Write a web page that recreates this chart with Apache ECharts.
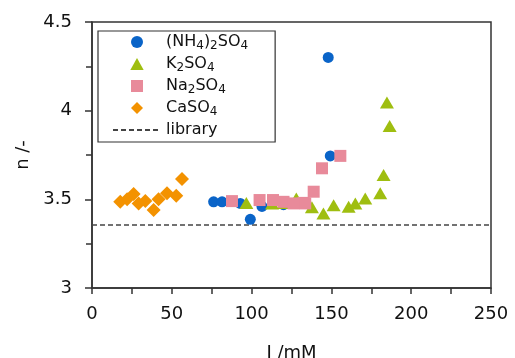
<!DOCTYPE html>
<html>
<head>
<meta charset="utf-8">
<script src="https://cdn.jsdelivr.net/npm/echarts@6/dist/echarts.min.js"></script>
<style>
  html, body { margin: 0; padding: 0; background: #fff; }
  #chart { width: 515px; height: 358px; }
</style>
</head>
<body>
<div id="chart"></div>
<script>
// ionic strength I (mM) and n (-) per salt
const nh4I = [76.2, 81.5, 92.9, 99.2, 106.5, 120.0, 148.0, 149.3];
const nh4N = [3.486, 3.486, 3.477, 3.387, 3.46, 3.47, 4.30, 3.745];

const k2I = [96.7, 112.8, 120.0, 128.0, 137.8, 145.0, 151.4, 160.8, 165.0, 171.2, 180.6, 182.7, 186.5, 184.8];
const k2N = [3.48, 3.477, 3.48, 3.505, 3.455, 3.42, 3.467, 3.458, 3.477, 3.505, 3.534, 3.637, 3.914, 4.046];

const na2I = [87.7, 105.0, 113.4, 120.0, 126.3, 132.6, 133.6, 138.9, 144.1, 155.6];
const na2N = [3.49, 3.496, 3.496, 3.486, 3.477, 3.48, 3.477, 3.543, 3.675, 3.745];

const caI = [17.7, 22.0, 26.1, 29.2, 33.4, 38.6, 41.7, 47.0, 52.8, 56.4];
const caN = [3.486, 3.50, 3.53, 3.477, 3.49, 3.44, 3.50, 3.534, 3.52, 3.614];

const libraryI = [0, 250];
const libraryN = [3.355, 3.355];

// legend labels with subscripts as rich text
const legendLabels = {
  "(NH4)2SO4": "(NH{s|4}){s|2}SO{s|4}",
  "K2SO4": "K{s|2}SO{s|4}",
  "Na2SO4": "Na{s|2}SO{s|4}",
  "CaSO4": "CaSO{s|4}",
  "library": "library"
};

// path icons so the legend keeps the marker aspect (built-in shapes get stretched)
const triPath = "path://M5,0L10,9L0,9Z";
const rectPath = "path://M0,0L10,0L10,10L0,10Z";
const diamondPath = "path://M5,0L10,5L5,10L0,5Z";

const zip = (xs, ys) => xs.map((x, i) => [x, ys[i]]);

const chart = echarts.init(document.getElementById("chart"), null, { renderer: "canvas" });

const axisColor = "#333";
const font = "DejaVu Sans, sans-serif";

chart.setOption({
  animation: false,
  textStyle: { fontFamily: font },
  grid: {
    left: 92, right: 24, top: 22, bottom: 70,
    outerBoundsMode: "none",
    containLabel: false,
    show: true, borderColor: axisColor, borderWidth: 1.5
  },
  legend: {
    data: [
      { name: "(NH4)2SO4", icon: "circle" },
      { name: "K2SO4", icon: triPath },
      { name: "Na2SO4", icon: rectPath },
      { name: "CaSO4", icon: diamondPath },
      { name: "library", itemStyle: { opacity: 0 } }
    ],
    orient: "vertical",
    left: 98, top: 31,
    padding: [0, 27, 1, 14],
    itemWidth: 48, itemHeight: 12, itemGap: 0,
    symbolKeepAspect: true,
    borderColor: axisColor, borderWidth: 1.2,
    formatter: (name) => legendLabels[name],
    textStyle: {
      fontSize: 16, lineHeight: 22, color: "#111", fontFamily: font,
      rich: {
        s: { fontSize: 12, lineHeight: 12, padding: [8, 0, 0, 0], fontFamily: font, color: "#111" }
      }
    }
  },
  xAxis: {
    type: "value",
    min: 0, max: 250, interval: 50,
    name: "I /mM",
    nameLocation: "middle",
    nameGap: 56,
    nameTextStyle: { fontSize: 18, color: "#111" },
    axisLine: { show: true, lineStyle: { color: axisColor, width: 1.5 } },
    axisTick: { show: true, length: 6, lineStyle: { color: axisColor, width: 1.5 } },
    minorTick: { show: true, splitNumber: 2, length: 6, lineStyle: { color: axisColor, width: 1.5 } },
    splitLine: { show: false },
    axisLabel: { fontSize: 18, color: "#111", margin: 17 }
  },
  yAxis: {
    type: "value",
    min: 3, max: 4.5, interval: 0.5,
    name: "n /-",
    nameLocation: "middle",
    nameGap: 60,
    nameRotate: 90,
    nameTextStyle: { fontSize: 18, color: "#111" },
    axisLine: { show: true, lineStyle: { color: axisColor, width: 1.5 } },
    axisTick: { show: true, length: 7, lineStyle: { color: axisColor, width: 1.5 } },
    minorTick: { show: true, splitNumber: 2, length: 6, lineStyle: { color: axisColor, width: 1.5 } },
    splitLine: { show: false },
    axisLabel: { fontSize: 18, color: "#111", margin: 20 }
  },
  series: [
    {
      name: "library",
      type: "line",
      data: zip(libraryI, libraryN),
      symbol: "none",
      lineStyle: { color: "#444", width: 1.5, type: [5, 3] },
      z: 1
    },
    {
      name: "(NH4)2SO4",
      type: "scatter",
      data: zip(nh4I, nh4N),
      symbol: "circle",
      symbolSize: 11,
      itemStyle: { color: "#0a64c8", opacity: 1 }
    },
    {
      name: "K2SO4",
      type: "scatter",
      data: zip(k2I, k2N),
      symbol: "triangle",
      symbolSize: [14, 12],
      itemStyle: { color: "#9fbe10", opacity: 1 }
    },
    {
      name: "Na2SO4",
      type: "scatter",
      data: zip(na2I, na2N),
      symbol: "rect",
      symbolSize: 12,
      itemStyle: { color: "#e88a9a", opacity: 1 }
    },
    {
      name: "CaSO4",
      type: "scatter",
      data: zip(caI, caN),
      symbol: "diamond",
      symbolSize: 14,
      itemStyle: { color: "#f39200", opacity: 1 }
    }
  ]
});
</script>
</body>
</html>
